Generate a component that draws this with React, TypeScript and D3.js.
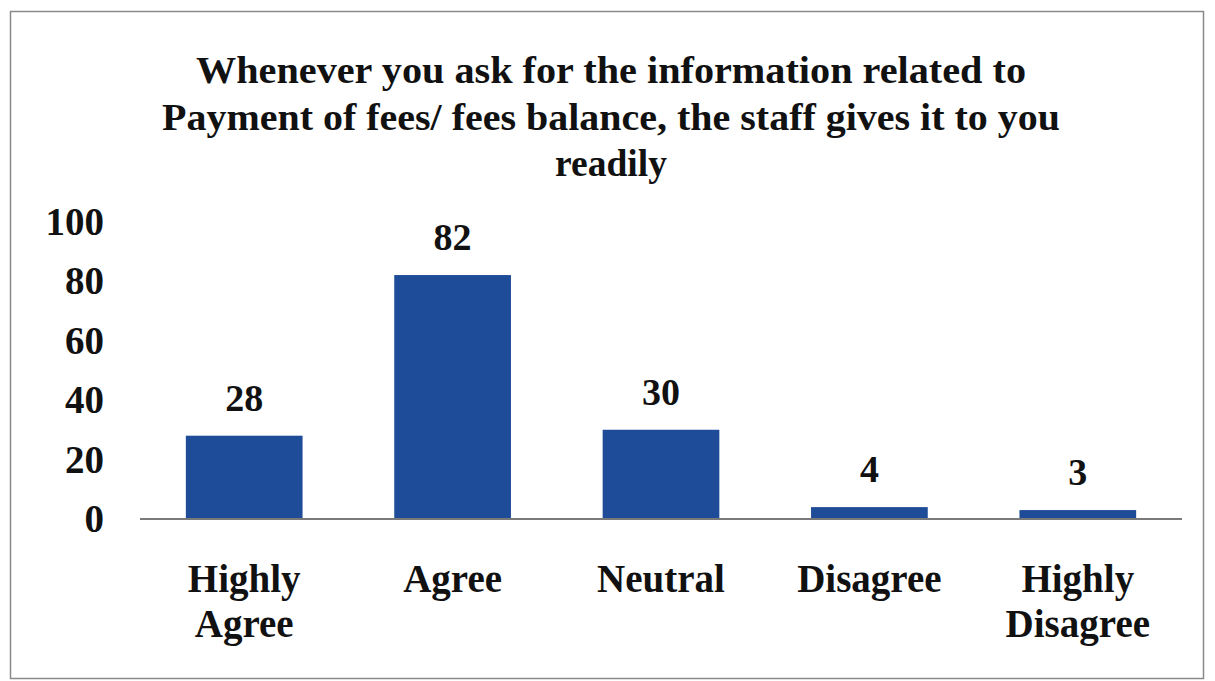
import React from "react";
import * as d3 from "d3";

const categories: string[][] = [["Highly", "Agree"], ["Agree"], ["Neutral"], ["Disagree"], ["Highly", "Disagree"]];
const values: number[] = [28, 82, 30, 4, 3];
const yTicks: number[] = [0, 20, 40, 60, 80, 100];
const titleLines: string[] = [
  "Whenever you ask for the information related to",
  "Payment of fees/ fees balance, the staff gives it to you",
  "readily",
];
const titleWidths: number[] = [830, 898, 112];

export default function App() {
  const W = 1215, H = 681;
  const x0 = 140, x1 = 1182, yBase = 519, yTop = 221.5;
  const keys = categories.map((_, i) => String(i));
  const x = d3.scaleBand<string>().domain(keys).range([x0, x1]).paddingInner(0.44).paddingOuter(0.22);
  const y = d3.scaleLinear().domain([0, 100]).range([yBase, yTop]);
  const font = "'Liberation Serif', 'Times New Roman', serif";
  return (
    <svg width={W} height={H} style={{ position: "absolute", left: 0, top: 0, background: "#fff" }} fontFamily={font}>
      <rect x={0} y={0} width={W} height={H} fill="#fff" />
      <rect x={10.5} y={11.5} width={1193} height={667} fill="#fff" stroke="#8a8a8a" strokeWidth={1.5} />
      {titleLines.map((t, i) => (
        <text key={i} x={611} y={83 + i * 46.5} textAnchor="middle" fontSize={38} fontWeight="bold" fill="#111"
          textLength={titleWidths[i]} lengthAdjust="spacingAndGlyphs">{t}</text>
      ))}
      {yTicks.map((t) => (
        <text key={t} x={104} y={y(t) + 13} textAnchor="end" fontSize={39} fontWeight="bold" fill="#111">{t}</text>
      ))}
      {values.map((v, i) => (
        <g key={i}>
          <rect x={x(String(i))} y={y(v)} width={x.bandwidth()} height={yBase - y(v)} fill="#1f4c98" />
          <text x={(x(String(i)) as number) + x.bandwidth() / 2} y={y(v) - 25} textAnchor="middle" fontSize={38} fontWeight="bold" fill="#111">{v}</text>
        </g>
      ))}
      <line x1={x0} x2={x1} y1={yBase} y2={yBase} stroke="#7a7a7a" strokeWidth={2} />
      {categories.map((lines, i) => (
        <text key={i} textAnchor="middle" fontSize={39} fontWeight="bold" fill="#111">
          {lines.map((l, j) => (
            <tspan key={j} x={(x(String(i)) as number) + x.bandwidth() / 2} y={592 + j * 45}>{l}</tspan>
          ))}
        </text>
      ))}
    </svg>
  );
}
